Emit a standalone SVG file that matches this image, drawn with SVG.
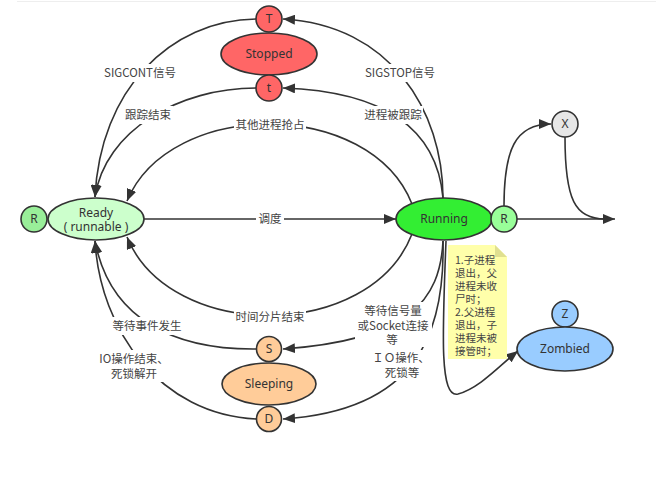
<svg xmlns="http://www.w3.org/2000/svg" width="656" height="477" viewBox="0 0 656 477">
<style>
  .node { stroke: #333; stroke-width: 1.6; }
  .nt { font-family: "Noto Sans", "Noto Sans CJK SC", sans-serif; font-size: 12px; fill: #333; text-anchor: middle; }
  .conn { fill: none; stroke: #333; stroke-width: 1.6; }
  .lbl { font-family: "Noto Sans CJK SC", "Noto Sans", sans-serif; font-size: 11.5px; fill: #444; text-anchor: middle; }
  .note { font-family: "Noto Sans CJK SC", "Noto Sans", sans-serif; font-size: 10.5px; fill: #444; }
  .bg { fill: #fff; }
</style>
<defs>
  <marker id="arr" markerWidth="12" markerHeight="10" refX="12" refY="5" orient="auto" markerUnits="userSpaceOnUse">
    <path d="M0,0 L12,5 L0,10 z" fill="#333"/>
  </marker>
</defs>
<rect width="656" height="477" fill="#fff"/>
<line x1="17" y1="1.5" x2="656" y2="1.5" stroke="#eeeeee" stroke-width="1"/>

<g id="connectors">
  <path class="conn" d="M443,198 C443,110 390,25 283,19" marker-end="url(#arr)"/>
  <path class="conn" d="M443,198 C438,140 400,92 283,88" marker-end="url(#arr)"/>
  <path class="conn" d="M412,204 C370,98 170,98 127,201" marker-end="url(#arr)"/>
  <path class="conn" d="M256,19 C170,20 100,90 95,197" marker-end="url(#arr)"/>
  <path class="conn" d="M256,88 C180,88 105,130 95,197" marker-end="url(#arr)"/>
  <path class="conn" d="M144,219 L396,219" marker-end="url(#arr)"/>
  <path class="conn" d="M412,234 C370,342 170,342 127,237" marker-end="url(#arr)"/>
  <path class="conn" d="M443,241 C440,300 410,340 283,349" marker-end="url(#arr)"/>
  <path class="conn" d="M443,241 C445,330 420,410 283,419" marker-end="url(#arr)"/>
  <path class="conn" d="M257,349 C175,350 110,320 95,241" marker-end="url(#arr)"/>
  <path class="conn" d="M257,419 C160,415 100,330 95,241" marker-end="url(#arr)"/>
  <path class="conn" d="M446,241 C442,340 440,398 458,394 C480,388 500,365 518,351" marker-end="url(#arr)"/>
  <path class="conn" d="M504,206 C504,150 515,124 551,124" marker-end="url(#arr)"/>
  <path class="conn" d="M565,137 C565,200 575,219 605,219"/>
  <path class="conn" d="M517,219 L615,219" marker-end="url(#arr)"/>

  <rect class="bg" x="364" y="64" width="72" height="18"/>
  <rect class="bg" x="363" y="106" width="60" height="18"/>
  <rect class="bg" x="234" y="116" width="72" height="18"/>
  <rect class="bg" x="102" y="64" width="76" height="18"/>
  <rect class="bg" x="123" y="106" width="50" height="18"/>
  <rect class="bg" x="256" y="210" width="28" height="18"/>
  <rect class="bg" x="234" y="308" width="72" height="18"/>
  <rect class="bg" x="111" y="317" width="72" height="18"/>
  <rect class="bg" x="103" y="350" width="63" height="32"/>
  <rect class="bg" x="355" y="302" width="77" height="45"/>
  <rect class="bg" x="370" y="350" width="60" height="31"/>

  <text class="lbl" x="400" y="77">SIGSTOP信号</text>
  <text class="lbl" x="393" y="119">进程被跟踪</text>
  <text class="lbl" x="270" y="129">其他进程抢占</text>
  <text class="lbl" x="140" y="77">SIGCONT信号</text>
  <text class="lbl" x="148" y="119">跟踪结束</text>
  <text class="lbl" x="270" y="223">调度</text>
  <text class="lbl" x="270" y="321">时间分片结束</text>
  <text class="lbl" x="147" y="330">等待事件发生</text>
  <text class="lbl" x="134" y="363">IO操作结束、</text>
  <text class="lbl" x="134" y="378">死锁解开</text>
  <text class="lbl" x="393" y="315">等待信号量</text>
  <text class="lbl" x="393" y="330">或Socket连接</text>
  <text class="lbl" x="392" y="344">等</text>
  <text class="lbl" x="401" y="362">ＩＯ操作、</text>
  <text class="lbl" x="402" y="377">死锁等</text>
</g>

<g id="node-T">
  <circle class="node" cx="269" cy="19" r="13" fill="#ff6666"/>
  <text class="nt" x="269" y="23">T</text>
</g>
<g id="node-Stopped">
  <ellipse class="node" cx="269" cy="54" rx="48" ry="21" fill="#ff6666"/>
  <text class="nt" x="269" y="58">Stopped</text>
</g>
<g id="node-t">
  <circle class="node" cx="269" cy="88" r="13" fill="#ff6666"/>
  <text class="nt" x="269" y="92">t</text>
</g>
<g id="node-R-left">
  <circle class="node" cx="34" cy="219" r="13" fill="#99ee99"/>
  <text class="nt" x="34" y="223">R</text>
</g>
<g id="node-Ready">
  <ellipse class="node" cx="96" cy="219" rx="48" ry="21" fill="#ccffcc"/>
  <text class="nt" x="96" y="217">Ready</text>
  <text class="nt" x="96" y="231">( runnable )</text>
</g>
<g id="node-Running">
  <ellipse class="node" cx="444" cy="219" rx="48" ry="21" fill="#33ee33"/>
  <text class="nt" x="444" y="223">Running</text>
</g>
<g id="node-R-right">
  <circle class="node" cx="504" cy="219" r="13" fill="#99ff99"/>
  <text class="nt" x="504" y="223">R</text>
</g>
<g id="node-X">
  <circle class="node" cx="565" cy="124" r="13" fill="#e6e6e6"/>
  <text class="nt" x="565" y="128">X</text>
</g>
<g id="node-Z">
  <circle class="node" cx="565" cy="314" r="13" fill="#99ccff"/>
  <text class="nt" x="565" y="318">Z</text>
</g>
<g id="node-Zombied">
  <ellipse class="node" cx="565" cy="349" rx="48" ry="22" fill="#99ccff"/>
  <text class="nt" x="565" y="353">Zombied</text>
</g>
<g id="node-S">
  <circle class="node" cx="269" cy="349" r="12.5" fill="#ffcc99"/>
  <text class="nt" x="269" y="353">S</text>
</g>
<g id="node-Sleeping">
  <ellipse class="node" cx="269" cy="384" rx="47" ry="21" fill="#ffcc99"/>
  <text class="nt" x="269" y="388">Sleeping</text>
</g>
<g id="node-D">
  <circle class="node" cx="269" cy="419" r="12.5" fill="#ffcc99"/>
  <text class="nt" x="269" y="423">D</text>
</g>
<g id="note">
  <path d="M448,245 L495,245 L507,257 L507,359 L448,359 z" fill="#ffffaa"/>
  <path d="M495,245 L507,257 L495,257 z" fill="#e0e090"/>
  <text class="note" x="455" y="264">1.子进程</text>
  <text class="note" x="455" y="277">退出，父</text>
  <text class="note" x="455" y="290">进程未收</text>
  <text class="note" x="455" y="303">尸时；</text>
  <text class="note" x="455" y="316">2.父进程</text>
  <text class="note" x="455" y="329">退出，子</text>
  <text class="note" x="455" y="342">进程未被</text>
  <text class="note" x="455" y="355">接管时；</text>
</g>
</svg>
